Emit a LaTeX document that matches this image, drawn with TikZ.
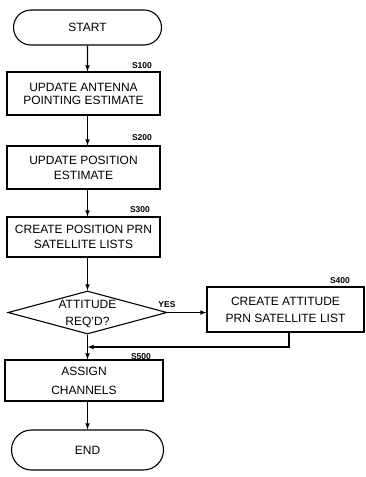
\documentclass[tikz,border=0pt]{standalone}
\usepackage{fontspec}
\setmainfont{Liberation Sans}
\usetikzlibrary{calc,shapes,shapes.geometric,shapes.misc,arrows}

\begin{document}
\begin{tikzpicture}[x=1pt, y=-1pt, line width=1.1pt, >=latex]
				\useasboundingbox (0,0) rectangle (366,477);
				\tikzstyle{every node}=[draw, shape=rectangle, inner sep=0pt, align=center, font=\fontsize{12}{13}\selectfont];
				\tikzstyle{term}=[shape=rounded rectangle];
				\tikzstyle{tag}=[draw=none, font=\bfseries\fontsize{8.5}{10}\selectfont];
				\node [term, minimum width=148, minimum height=35] (n0) at (87.5, 27.5) {START};
				\node [minimum width=153, minimum height=43] (n1) at (83.5, 93.5) {UPDATE ANTENNA\\POINTING ESTIMATE};
				\node [tag] (t1) at (142, 66) {S100};
				\draw[->] (n0) -- (n0 |- n1.north);
				\node [minimum width=153, minimum height=43] (n2) at (83.5, 167.5) {UPDATE POSITION\\[2pt]ESTIMATE};
				\node [tag] (t2) at (142, 138) {S200};
				\draw[->] (n1.south -| n0) -- (n2.north -| n0);
				\node [minimum width=153, minimum height=40] (n3) at (83.5, 237) {CREATE POSITION PRN\\[2pt]SATELLITE LISTS};
				\node [tag] (t3) at (140, 210) {S300};
				\draw[->] (n2.south -| n0) -- (n3.north -| n0);
				\node [diamond, minimum width=159, minimum height=43] (d1) at (87.5, 312.5) {};
				\node [draw=none] (dt1) at (87.5, 314.5) {ATTITUDE\\[4pt]REQ'D?};
				\draw[->] (n3.south -| d1) -- (d1.north);
				\node [tag] (ty) at (167, 305) {YES};
				\node [minimum width=157, minimum height=45] (n4) at (285.5, 309.5) {CREATE ATTITUDE\\[4pt]PRN SATELLITE LIST};
				\node [tag] (t4) at (340, 281) {S400};
				\draw[->] (d1.east) -- (d1.east -| n4.west);
				\node [minimum width=158, minimum height=41] (n5) at (84, 380.5) {ASSIGN\\[6pt]CHANNELS};
				\node [tag] (t5) at (141, 357) {S500};
				\draw[->] (d1.south) -- (d1.south |- n5.north);
				\coordinate (c1) at (289, 347);
				\draw[->] (n4.south -| c1) -- (c1) -- (c1 -| d1.south);
				\node [term, minimum width=152, minimum height=40] (n6) at (87.5, 450) {END};
				\draw[->] (n5.south -| n6) -- (n6.north);
\end{tikzpicture}
\end{document}
